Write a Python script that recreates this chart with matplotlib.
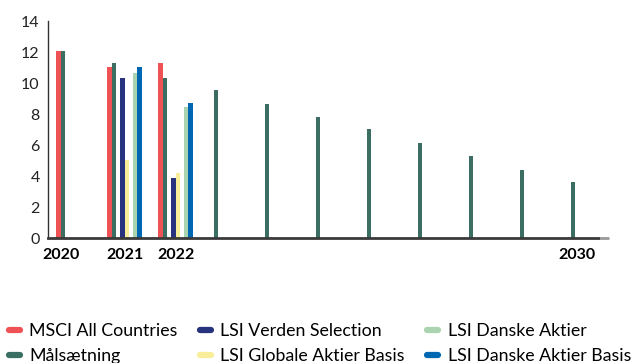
import numpy as np
import matplotlib.pyplot as plt
from matplotlib.lines import Line2D

plt.rcParams['font.family'] = ['Lato', 'DejaVu Sans']

aar = [2020, 2021, 2022, 2023, 2024, 2025, 2026, 2027, 2028, 2029, 2030]
nan = np.nan

msci = [12.05, 11.05, 11.3, nan, nan, nan, nan, nan, nan, nan, nan]
maal = [12.05, 11.3, 10.3, 9.55, 8.65, 7.82, 7.05, 6.15, 5.32, 4.42, 3.65]
verden = [nan, 10.3, 3.85, nan, nan, nan, nan, nan, nan, nan, nan]
globale = [nan, 5.06, 4.17, nan, nan, nan, nan, nan, nan, nan, nan]
danske = [nan, 10.64, 8.46, nan, nan, nan, nan, nan, nan, nan, nan]
danske_basis = [nan, 11.03, 8.72, nan, nan, nan, nan, nan, nan, nan, nan]

serier = [
    ('MSCI All Countries', msci, '#EE5254', 0),
    ('Målsætning', maal, '#3A6E62', 1),
    ('LSI Verden Selection', verden, '#28337F', 3),
    ('LSI Globale Aktier Basis', globale, '#F8EE9A', 4),
    ('LSI Danske Aktier', danske, '#A9D4AF', 6),
    ('LSI Danske Aktier Basis', danske_basis, '#0067B2', 7),
]

fig = plt.figure(figsize=(6.32, 3.63), dpi=100)
ax = fig.add_axes([0.076, 0.344, 0.888, 0.598])

x = np.arange(len(aar))
w = 0.084
for navn, vaerdier, farve, slot in serier:
    ax.bar(x + (slot - 3.5) * w, vaerdier, width=w, color=farve, align='center')

ax.set_xlim(-0.5, 10.5)
ax.set_ylim(0, 14)
ax.set_yticks(range(0, 15, 2))
ax.tick_params(axis='y', length=0, labelsize=11.5, pad=6, colors='#222222')
ax.tick_params(axis='x', length=0, labelsize=11.5, pad=7)

vist = [0, 1, 2, 10]
ax.set_xticks([-0.25, 1, 2, 9.86])
ax.set_xticklabels([str(aar[i]) for i in vist], fontweight='bold')

for s in ['top', 'right']:
    ax.spines[s].set_visible(False)
ax.spines['left'].set_color('#333333')
ax.spines['left'].set_linewidth(1.0)
ax.spines['bottom'].set_color('#3a3a3a')
ax.spines['bottom'].set_linewidth(2.0)
ax.spines['bottom'].set_bounds(-0.5, 10.27)
ax.plot([10.27, 10.5], [0, 0], color='#999999', lw=2.0, clip_on=False, solid_capstyle='butt')

handles = [Line2D([0], [0], color=f, lw=4.5, solid_capstyle='round') for _, _, f, _ in serier]
labels = [navn for navn, _, _, _ in serier]
fig.legend(handles, labels, ncol=3, loc='lower left', bbox_to_anchor=(0.0, -0.027),
           frameon=False, fontsize=12.8, handlelength=0.6, handletextpad=0.55,
           columnspacing=1.25, labelspacing=0.5, borderaxespad=0.2, borderpad=0.3)

fig.savefig('out.png', dpi=100)
